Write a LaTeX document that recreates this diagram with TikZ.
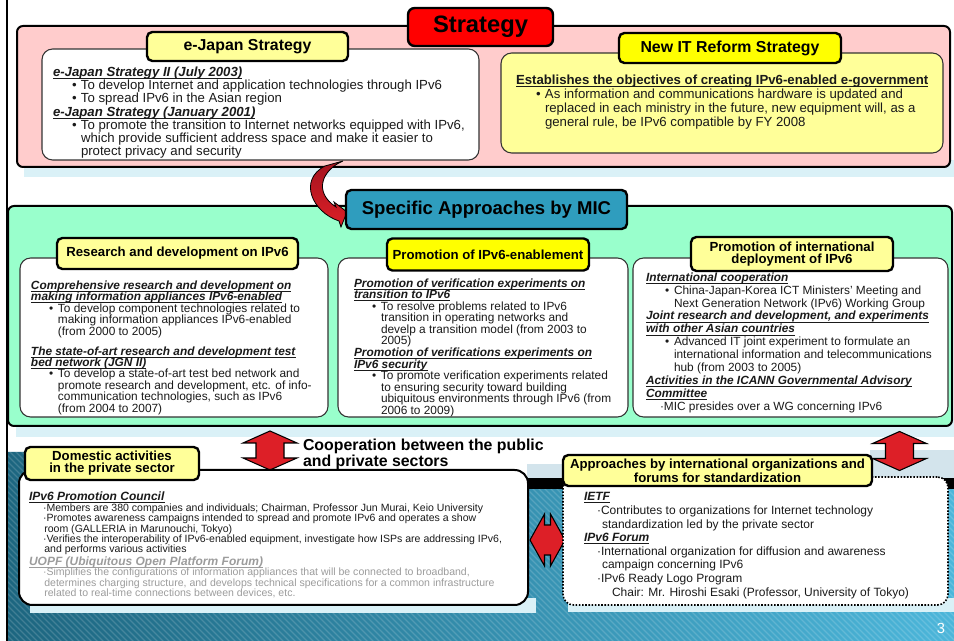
\documentclass[tikz,border=0pt]{standalone}
\usepackage{fontspec}
\setmainfont{Liberation Sans}
\usetikzlibrary{fit}
\definecolor{pinkbg}{HTML}{FFCCCC}
\definecolor{ylight}{HTML}{FFFF99}
\definecolor{ybright}{HTML}{FFFF00}
\definecolor{tealbox}{HTML}{2F9DBE}
\definecolor{greenbg}{HTML}{99FFCC}
\definecolor{shadowc}{HTML}{DAF1F7}
\definecolor{arrred}{HTML}{DD1F27}
\definecolor{arrdark}{HTML}{A3141F}
\definecolor{textc}{HTML}{1A1A1A}
\definecolor{grayt}{HTML}{9C9C9C}
\definecolor{bluedark}{HTML}{1D6680}
\definecolor{bluelight}{HTML}{4CB6DA}
\definecolor{lattice}{HTML}{D3E4EC}
\definecolor{boxline}{HTML}{333333}
\newcommand{\myul}[1]{\underline{\raisebox{0pt}[\height][0pt]{#1}}}
\newcommand{\hdr}[1]{\myul{\textbf{\textit{#1}}}}
\newcommand{\mybu}[1]{\hspace*{#1}\makebox[6.75pt][l]{\textbullet}}
\newcommand{\mycn}[1]{\hspace*{\dimexpr#1+6.75pt\relax}}
\begin{document}
\begin{tikzpicture}[x=0.75pt,y=-0.75pt,
  every node/.style={inner sep=0pt, outer sep=0pt},
  bigbox/.style={draw=black, line width=1.5pt, rounded corners=4.5pt, inner sep=0pt},
  wbox/.style={draw=boxline, line width=0.8pt, fill=white, rounded corners=8pt, inner sep=0pt},
  tab/.style={draw=black, line width=1.8pt, rounded corners=4pt, align=center, text=black,
              font=\bfseries\fontsize{9.9}{9.2}\selectfont},
  txt/.style={anchor=north west, align=left, text=textc},
  dblarrow/.style={fill=arrred, draw=black, line width=0.8pt, line join=miter},
  vdbl/.pic={\draw[dblarrow] (0,-19.5) -- (27,-7.5) -- (14,-7.5) -- (14,7.5) -- (27,7.5) -- (0,19.5)
      -- (-27,7.5) -- (-14,7.5) -- (-14,-7.5) -- (-27,-7.5) -- cycle;},
  hdbl/.pic={\draw[dblarrow] (-17.5,0) -- (-3,-26) -- (-3,-15) -- (3,-15) -- (3,-26) -- (17.5,0)
      -- (3,26) -- (3,15) -- (-3,15) -- (-3,26) -- cycle;}
]
\useasboundingbox (0,0) rectangle (954,641);
\fill[white] (0,0) rectangle (954,641);

% ---------- background art ----------
\shade[left color=bluedark, right color=bluelight]
  (8,452) -- (24,452) -- (24,489) -- (954,489) -- (954,641) -- (8,641) -- cycle;
\begin{scope}
  \clip (8,452) -- (24,452) -- (24,489) -- (954,489) -- (954,641) -- (8,641) -- cycle;
  \foreach \i in {-200,-194,...,960} {
    \draw[white, opacity=0.16, line width=0.9pt] (\i,440) -- (\i+210,650);
  }
\end{scope}
\fill[lattice] (527,464) rectangle (954,478);
\fill[lattice] (870,450) rectangle (954,464);
\fill[black] (527,478) rectangle (954,489);
\fill[shadowc] (24,160) rectangle (954,177);
\fill[shadowc] (16,420) rectangle (954,437);
\fill[shadowc] (30,598) rectangle (536,613);
\fill[shadowc] (568,598) rectangle (954,612);
\draw[line width=1.5pt] (7,0) -- (7,641);

% ---------- Strategy ----------
\node[bigbox, fill=pinkbg, fit={(17,26) (950,167)}] (strat) {};
\node[wbox, fit={(42,49) (479,160)}] (ejbox) {};
\node[wbox, fill=ylight, fit={(501,53) (943,153)}] (nitbox) {};
\node[tab, fill=ylight, minimum width=150.75pt, minimum height=21.75pt,
      font=\bfseries\fontsize{11.9}{12}\selectfont] (ejtab) at (247.5,46.5) {e-Japan Strategy};
\node[tab, fill=ybright, minimum width=166.5pt, minimum height=22.5pt,
      font=\bfseries\fontsize{11.9}{12}\selectfont] (nittab) at (730,48) {New IT Reform Strategy};
\node[tab, fill=red, minimum width=108.75pt, minimum height=28.5pt, rounded corners=5pt,
      font=\bfseries\fontsize{17.8}{18}\selectfont] (strattitle) at (480.5,27) {Strategy};

\node[txt, font=\fontsize{9.9}{9.9}\selectfont] (ejtext) at (53,67) {%
\hdr{e-Japan Strategy II (July 2003)}\\
\mybu{14.25pt}To develop Internet and application technologies through IPv6\\
\mybu{14.25pt}To spread IPv6 in the Asian region\\
\hdr{e-Japan Strategy (January 2001)}\\
\mybu{14.25pt}To promote the transition to Internet networks equipped with IPv6,\\
\mycn{14.25pt}which provide sufficient address space and make it easier to\\
\mycn{14.25pt}protect privacy and security};

\node[txt, font=\fontsize{9.9}{10.5}\selectfont] (nittext) at (516,75) {%
\myul{\textbf{Establishes the objectives of creating IPv6-enabled e-government}}\\
\mybu{15pt}As information and communications hardware is updated and\\
\mycn{15pt}replaced in each ministry in the future, new equipment will, as a\\
\mycn{15pt}general rule, be IPv6 compatible by FY 2008};

% ---------- Specific approaches ----------
\node[bigbox, fill=greenbg, fit={(8,206) (952,426)}] (mic) {};
\shadedraw[top color=arrdark, bottom color=arrred, draw=black, line width=0.6pt]
  (325,166) -- (343,161) .. controls (322,170) and (313,192) .. (336,207)
  -- (334,202) -- (347,212) -- (341,227) -- (339,221)
  .. controls (312,212) and (298,180) .. (325,166) -- cycle;
\node[tab, fill=tealbox, minimum width=210.75pt, minimum height=29.25pt,
      font=\bfseries\fontsize{13.9}{14}\selectfont] (mictitle) at (486.5,209.5) {Specific Approaches by MIC};

\node[wbox, fit={(20,258) (328,417)}] (rdbox) {};
\node[wbox, fit={(338,258) (628,417)}] (pebox) {};
\node[wbox, fit={(633,258) (948,417)}] (idbox) {};
\node[tab, fill=ylight, minimum width=180.75pt, minimum height=23.25pt] (rdtab) at (177.5,253.5)
  {Research and development on IPv6};
\node[tab, fill=ybright, minimum width=151.5pt, minimum height=24pt] (petab) at (488,254.5)
  {Promotion of IPv6-enablement};
\node[tab, fill=ylight, minimum width=151.5pt, minimum height=25.5pt] (idtab) at (792,254)
  {Promotion of international\\deployment of IPv6};

\node[txt, font=\fontsize{8.9}{8.6}\selectfont] (rdtext) at (31,280.6) {%
\hdr{Comprehensive research and development on}\\
\hdr{making information appliances IPv6-enabled}\\
\mybu{13.5pt}To develop component technologies related to\\
\mycn{13.5pt}making information appliances IPv6-enabled\\
\mycn{13.5pt}(from 2000 to 2005)\\[6.4pt]
\hdr{The state-of-art research and development test}\\
\hdr{bed network (JGN II)}\\
\mybu{13.5pt}To develop a state-of-art test bed network and\\
\mycn{13.5pt}promote research and development, etc. of info-\\
\mycn{13.5pt}communication technologies, such as IPv6\\
\mycn{13.5pt}(from 2004 to 2007)};

\node[txt, font=\fontsize{8.9}{8.66}\selectfont] (petext) at (354,278.6) {%
\hdr{Promotion of verification experiments on}\\
\hdr{transition to IPv6}\\
\mybu{13.5pt}To resolve problems related to IPv6\\
\mycn{13.5pt}transition in operating networks and\\
\mycn{13.5pt}develp a transition model (from 2003 to\\
\mycn{13.5pt}2005)\\
\hdr{Promotion of verifications experiments on}\\
\hdr{IPv6 security}\\
\mybu{13.5pt}To promote verification experiments related\\
\mycn{13.5pt}to ensuring security toward building\\
\mycn{13.5pt}ubiquitous environments through IPv6 (from\\
\mycn{13.5pt}2006 to 2009)};

\node[txt, font=\fontsize{8.9}{9.7}\selectfont] (idtext) at (646,272.6) {%
\hdr{International cooperation}\\
\mybu{14.25pt}China-Japan-Korea ICT Ministers' Meeting and\\
\mycn{14.25pt}Next Generation Network (IPv6) Working Group\\
\hdr{Joint research and development, and experiments}\\
\hdr{with other Asian countries}\\
\mybu{14.25pt}Advanced IT joint experiment to formulate an\\
\mycn{14.25pt}international information and telecommunications\\
\mycn{14.25pt}hub (from 2003 to 2005)\\
\hdr{Activities in the ICANN Governmental Advisory}\\
\hdr{Committee}\\
\hspace*{10.5pt}·MIC presides over a WG concerning IPv6};

% ---------- cooperation ----------
\pic at (270,450.5) {vdbl};
\node[txt, text=black, font=\bfseries\fontsize{11.9}{9.75}\selectfont] (coop) at (303,439)
  {Cooperation between the public\\and private sectors};

\node[draw=black, line width=1.5pt, fill=white, rounded corners=10pt, inner sep=0pt,
      fit={(19,470) (528,605)}] (dobox) {};
\node[tab, fill=ylight, minimum width=130.5pt, minimum height=24.75pt,
      font=\bfseries\fontsize{9.9}{9}\selectfont] (dotab) at (112,463.5)
  {Domestic activities\\in the private sector};
\node[txt, font=\fontsize{9}{9}\selectfont] (dohead) at (29,491.6) {\hdr{IPv6 Promotion Council}};
\node[txt, font=\fontsize{7.9}{7.7}\selectfont] (dobody) at (43,504) {%
·Members are 380 companies and individuals; Chairman, Professor Jun Murai, Keio University\\
·Promotes awareness campaigns intended to spread and promote IPv6 and operates a show\\
\hspace*{1pt}room (GALLERIA in Marunouchi, Tokyo)\\
·Verifies the interoperability of IPv6-enabled equipment, investigate how ISPs are addressing IPv6,\\
\hspace*{1pt}and performs various activities};
\node[txt, text=grayt, font=\fontsize{9}{9}\selectfont] (uopfhead) at (29,556.6)
  {\hdr{UOPF (Ubiquitous Open Platform Forum)}};
\node[txt, text=grayt, font=\fontsize{7.9}{7.9}\selectfont] (uopfbody) at (43,568) {%
·Simplifies the configurations of information appliances that will be connected to broadband,\\
\hspace*{1pt}determines charging structure, and develops technical specifications for a common infrastructure\\
\hspace*{1pt}related to real-time connections between devices, etc.};

\pic at (547.5,540) {hdbl};
\node[draw=black, line width=1.2pt, dash pattern=on 1.2pt off 1.2pt, fill=white, rounded corners=8pt,
      inner sep=0pt, fit={(563,477) (948,605)}] (aibox) {};
\node[tab, fill=ylight, minimum width=231.75pt, minimum height=23.25pt] (aitab) at (717.5,470.5)
  {Approaches by international organizations and\\forums for standardization};
\pic at (899.5,451) {vdbl};
\node[txt, font=\fontsize{9}{10.2}\selectfont] (aitext) at (584,492.6) {%
\hdr{IETF}\\
\hspace*{9.75pt}·Contributes to organizations for Internet technology\\
\hspace*{13.5pt}standardization led by the private sector\\
\hdr{IPv6 Forum}\\
\hspace*{9.75pt}·International organization for diffusion and awareness\\
\hspace*{13.5pt}campaign concerning IPv6\\
\hspace*{9.75pt}·IPv6 Ready Logo Program\\
\hspace*{21pt}Chair: Mr. Hiroshi Esaki (Professor, University of Tokyo)};

\node[text=white, font=\fontsize{11}{11}\selectfont] (pg) at (941,628) {3};
\end{tikzpicture}
\end{document}
